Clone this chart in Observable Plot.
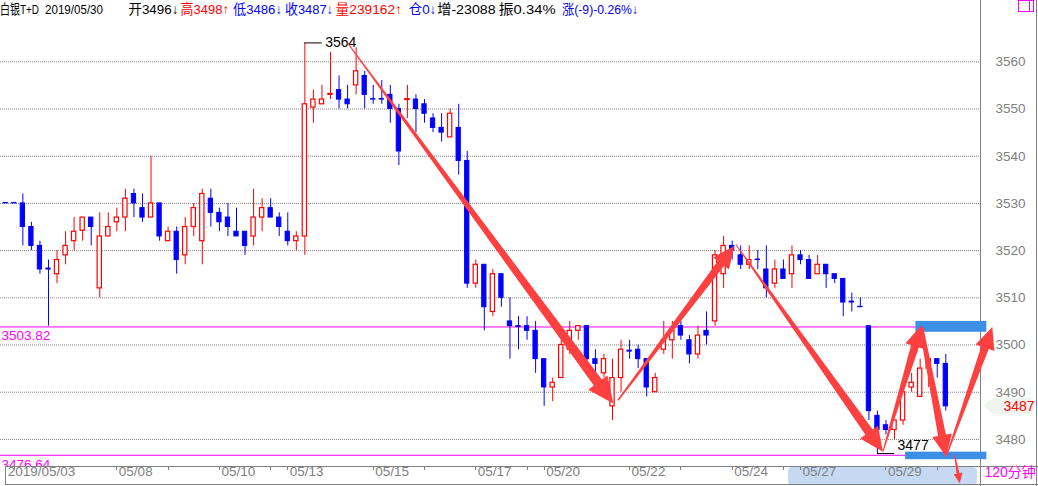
<!DOCTYPE html>
<html><head><meta charset="utf-8">
<script src="https://cdn.jsdelivr.net/npm/d3@7"></script>
<script src="https://cdn.jsdelivr.net/npm/@observablehq/plot@0.6"></script>
<style>
body{margin:0;background:#fff;}
#chart{position:relative;width:1038px;height:486px;overflow:hidden;}
</style>
</head><body><div id="chart"></div>
<script>
// ---- data: 120-minute bars of 白银T+D, bar numbers start at -1 ----
const firstBar = -1;
const opens = [3530.1,3530.1,3530,3525,3521,3516.2,3515,3519,3522,3524.2,
 3527,3512,3523,3526,3527,3532,3529,3527,3530,3522,
 3524,3519,3525,3522,3531,3528,3527,3524,3524,3523,
 3527,3529,3527,3524,3522,3523,3550.3,3551,3553,3554,
 3552,3555,3557,3552.1,3552.1,3553,3550,3551.9,3552,3551,
 3548,3546,3544,3546,3539,3513,3517,3507,3515,3505,
 3504,3504,3503,3497,3491,3493,3499,3503,3504,3497,
 3494,3487,3493,3498.8,3499,3497,3490,3499,3501,3504,
 3501,3498,3503,3505,3515,3521,3519,3517,3518.1,3516,
 3513,3516,3515,3519,3518,3515,3517,3515,3514,3509.2,
 3508.1,3504,3485,3483,3482,3484,3491,3489,3495,3497,
 3496];
const highs = [3530.1,3530.1,3532,3526,3522,3518,3520,3524,3527,3527,
 3527,3528,3528,3529,3533,3533,3532,3540,3530,3525,
 3525,3527,3530,3533,3533,3529,3530,3529,3524,3533,
 3531,3531,3528,3528,3524,3564,3554,3555,3562,3557,
 3555,3563,3558,3555,3556,3555,3551,3555,3553,3552,
 3549,3549,3550,3551,3541,3518,3517,3516,3515,3510,
 3506,3506,3505,3497,3493,3501,3505,3504,3504,3499,
 3498,3497,3501,3501,3500,3497,3494,3505,3505,3505,
 3502,3504,3507,3520,3523,3522,3521,3521,3520,3521,
 3518,3518,3521,3520,3519,3519,3517,3515,3514,3511,
 3510,3504,3486,3484,3484,3492,3494,3497,3497,3497,
 3498];
const lows = [3530,3530,3521,3520,3515,3504,3513,3517,3520,3522,
 3521,3510,3523,3524,3524,3527,3526,3527,3522,3522,
 3515,3517,3523,3517,3525,3524,3523,3523,3519,3521,
 3524,3527,3523,3521,3520,3519,3547,3551,3552,3550,
 3550,3553,3550,3551,3551,3547,3538,3548,3545,3547,
 3545,3543,3544,3536,3512,3512,3503,3506,3508,3497,
 3499,3501,3494,3487,3488,3493,3498,3501,3496,3494,
 3493,3484,3490,3497,3495,3489,3490,3498,3497,3501,
 3496,3497,3500,3504,3512,3518,3516,3516,3516,3510,
 3512,3514,3512,3517,3514,3515,3512,3513,3506,3507,
 3508,3484,3477,3481,3480,3483,3490,3489,3491,3493,
 3486];
const closes = [3530,3530,3525,3521,3516,3516,3518,3521,3524,3527,
 3525,3523,3525,3527,3531,3530,3527,3530,3523,3524,
 3518,3525,3529,3532,3528,3526,3525,3523,3521,3527,
 3529,3527,3525,3522,3523,3551,3552,3552,3553.2,3552,
 3551,3558,3553,3552,3552,3550,3541,3552.1,3550,3549,
 3546,3545,3549,3539,3513,3517,3508,3515,3510,3504,
 3503.8,3503,3497,3491,3492,3500,3503,3504,3497,3496,
 3497,3493,3499,3498.6,3497,3491,3493,3501,3503,3502,
 3498,3502,3502,3519,3521,3520,3517,3518,3518,3512,
 3516,3514,3519,3518,3514,3517,3515,3514,3509,3509,
 3508,3486,3482,3482,3484,3490,3492,3495,3497,3496,
 3487];

const gridValues = [3480,3490,3500,3510,3520,3530,3540,3550,3560];
const levelValues = [3503.82, 3476.64];
const tickBars = [0,12,18,24,30,32,42,48,54,60,62,72,78,84,90,92,102,108];
const labelBars = [-1,12,24,32,42,54,62,72,84,92,102];
const labelTexts = ["2019/05/03","05/08","05/10","05/13","05/15","05/17","05/20","05/22","05/24","05/27","05/29"];
const highMark = {bar:34, value:3564};
const lowMark = {bar:101, value:3477};
const lastClose = 3487;
const headerTexts = ["白银T+D","2019/05/30","开3496↓","高3498↑","低3486↓","收3487↓","量239162↑","仓0↓","增-23088","振0.34%","涨(-9)-0.26%↓"];
const headerColors = ["#000","#000","#000","#f00","#00f","#00f","#f00","#00f","#000","#000","#00f"];
// hand-drawn annotations (bar, price)
const arrowFrom = [[39.1,3563.8],[70.7,3488.2],[84.5,3521.2],[101.7,3477.3],[106.2,3503.5],[109.1,3476.2],[110.1,3476.6]];
const arrowTo   = [[70.15,3487.5],[84.3,3520.9],[101.7,3477.3],[106.2,3504.1],[109.1,3476.2],[114.5,3503.7],[110.7,3470.6]];
const boxBars   = [[105.5,113.8],[104.3,113.8]];
const boxPrices = [[3502.7,3505.0],[3475.7,3477.3]];

// ---- layout / style ----
const headerX = [0,45,128.5,180.6,233,285,335.6,408.8,437.2,498.8,562];
const headerW = [39,58,49.9,48.3,49,48,66.3,27.5,58.4,56.8,76];
const arrowStyle = [[1,10,26,24],[1.5,8,22,20],[1,9,24,22],[1,8,22,20],[4,8,22,20],[1,8,22,20],[1,3,10,9]];
const RED="#ff0000", BLUE="#0000ff", GRAY="#808080", MAG="#ff00ff", ARROW="#ff4040";

const candles = opens.map((o,k)=>({i:k+firstBar,o,h:highs[k],l:lows[k],c:closes[k]}));
const ups = candles.filter(d=>d.c>d.o), downs = candles.filter(d=>d.c<=d.o);
const hw = 0.25;

function chrome(index, scales, values, dims){
  const {x, y} = scales;
  const {width, height, marginRight, marginBottom} = dims;
  const R = width - marginRight, B = height - marginBottom;
  const g = d3.create("svg:g");
  g.append("rect").attr("x", x(90.6)).attr("y", B+1).attr("width", x(112.7)-x(90.6)).attr("height", height-B-2)
    .attr("rx",4).attr("fill","#c5daf2");
  const ln = (x1,y1,x2,y2,c)=>g.append("line").attr("x1",x1).attr("y1",y1).attr("x2",x2).attr("y2",y2).attr("stroke",c||GRAY).attr("stroke-width",1);
  ln(R+0.5,0,R+0.5,height);
  ln(width-1.5,0,width-1.5,height);
  ln(5.5,B+0.5,width,B+0.5);
  ln(5.5,height-1.5,width,height-1.5);
  ln(5.5,B,5.5,height-1);
  tickBars.forEach(b=>{const px=Math.round(x(b))+0.5; ln(px,B,px,B+4);});
  // magenta box top-right
  g.append("rect").attr("x",1018.5).attr("y",0.5).attr("width",15).attr("height",11).attr("fill","none").attr("stroke",MAG);
  ln(1029.5,0.5,1029.5,11.5,MAG);
  // current price tag
  const ty = y(lastClose);
  g.append("path").attr("d",`M${R+3},${ty}L${R+13},${ty-8}L${R+53},${ty-8}L${R+53},${ty+8}L${R+13},${ty+8}Z`).attr("fill","#eef5ee");
  return g.node();
}

function arrows(index, scales){
  const {x, y} = scales;
  const g = d3.create("svg:g");
  arrowFrom.forEach((f,k)=>{
    const [w0,w1,hl,hwid] = arrowStyle[k];
    const p1=[x(f[0]),y(f[1])], p2=[x(arrowTo[k][0]),y(arrowTo[k][1])];
    const dx=p2[0]-p1[0], dy=p2[1]-p1[1], L=Math.hypot(dx,dy);
    const u=[dx/L,dy/L], n=[-u[1],u[0]];
    const b=[p2[0]-u[0]*hl, p2[1]-u[1]*hl];
    const P=(p,s)=>[p[0]+n[0]*s,p[1]+n[1]*s];
    const pts=[P(p1,w0/2),P(b,w1/2),P(b,hwid/2),p2,P(b,-hwid/2),P(b,-w1/2),P(p1,-w0/2)];
    g.append("path").attr("d","M"+pts.map(p=>p[0].toFixed(1)+","+p[1].toFixed(1)).join("L")+"Z").attr("fill",ARROW);
  });
  return g.node();
}

function header(){
  const g = d3.create("svg:g").attr("text-anchor","start");
  headerTexts.forEach((t,k)=>{
    g.append("text").attr("x",headerX[k]).attr("y",14).attr("fill",headerColors[k]).attr("text-anchor","start")
      .attr("font-size",13.5).attr("textLength",headerW[k]).attr("lengthAdjust","spacingAndGlyphs").text(t);
  });
  return g.node();
}

const plot = Plot.plot({
  width: 1038, height: 486,
  marginLeft: 0, marginRight: 58, marginTop: 22, marginBottom: 20,
  x: {type:"linear", domain:[-1.615, 113.06], axis: null},
  y: {type:"linear", domain:[3474.26, 3568.33], axis: null},
  style: {background:"white", fontFamily:"'Liberation Sans','Noto Sans CJK SC',sans-serif", fontSize:"13px", overflow:"visible"},
  marks: [
    chrome,
    Plot.ruleY(gridValues, {y: d=>d, stroke: GRAY, strokeDasharray: "1,1"}),
    Plot.ruleY(levelValues, {y: d=>d, stroke: MAG}),
    Plot.text(levelValues, {y: d=>d, text: d=>d.toFixed(2), frameAnchor:"left", textAnchor:"start", dx: 1, dy: 9, fill: MAG, fontSize: 13.5, clip: true}),
    Plot.ruleX(downs, {x:"i", y1:"l", y2:"h", stroke: BLUE}),
    Plot.ruleX(ups, {x:"i", y1:"l", y2:"h", stroke: RED}),
    Plot.rect(downs, {x1: d=>d.i-hw, x2: d=>d.i+hw, y1:"o", y2:"c", fill: BLUE, stroke: BLUE, strokeWidth: 1}),
    Plot.rect(ups, {x1: d=>d.i-hw, x2: d=>d.i+hw, y1:"o", y2:"c", fill: "white", stroke: RED, strokeWidth: 1.2}),
    Plot.ruleY([highMark], {y:"value", x1:"bar", x2: d=>d.bar+2.03, stroke:"black"}),
    Plot.text([highMark], {x: d=>d.bar+2.03, y:"value", text: d=>String(d.value), textAnchor:"start", dx: 3, fill:"black", fontSize: 14}),
    Plot.ruleY([lowMark], {y:"value", x1:"bar", x2: d=>d.bar+2, stroke:"black"}),
    Plot.text([lowMark], {x: d=>d.bar+2, y:"value", text: d=>String(d.value), textAnchor:"start", dx: 3, dy: -8, fill:"black", fontSize: 14}),
    Plot.rect(boxBars, {x1: d=>d[0], x2: d=>d[1], y1: (d,k)=>boxPrices[k][0], y2: (d,k)=>boxPrices[k][1], fill: "#3d8ee6"}),
    arrows,
    Plot.text(gridValues, {y: d=>d, text: d=>String(d), frameAnchor:"right", textAnchor:"start", dx: 15, fill: GRAY, fontSize: 13.5}),
    Plot.text(labelBars, {x: d=>d, text: (d,k)=>labelTexts[k], frameAnchor:"bottom", textAnchor:"start", dx: 2, dy: 9.5, fill: GRAY, fontSize: 13.5}),
    Plot.text([lastClose], {y: d=>d, text: d=>String(d), frameAnchor:"right", textAnchor:"start", dx: 23, fill: RED, fontSize: 14}),
    Plot.text(["120分钟"], {text: d=>d, frameAnchor:"bottom-right", textAnchor:"start", dx: 4, dy: 10, fill: MAG, fontSize: 14}),
    header
  ]
});
document.getElementById("chart").appendChild(plot);
</script>
</body></html>
